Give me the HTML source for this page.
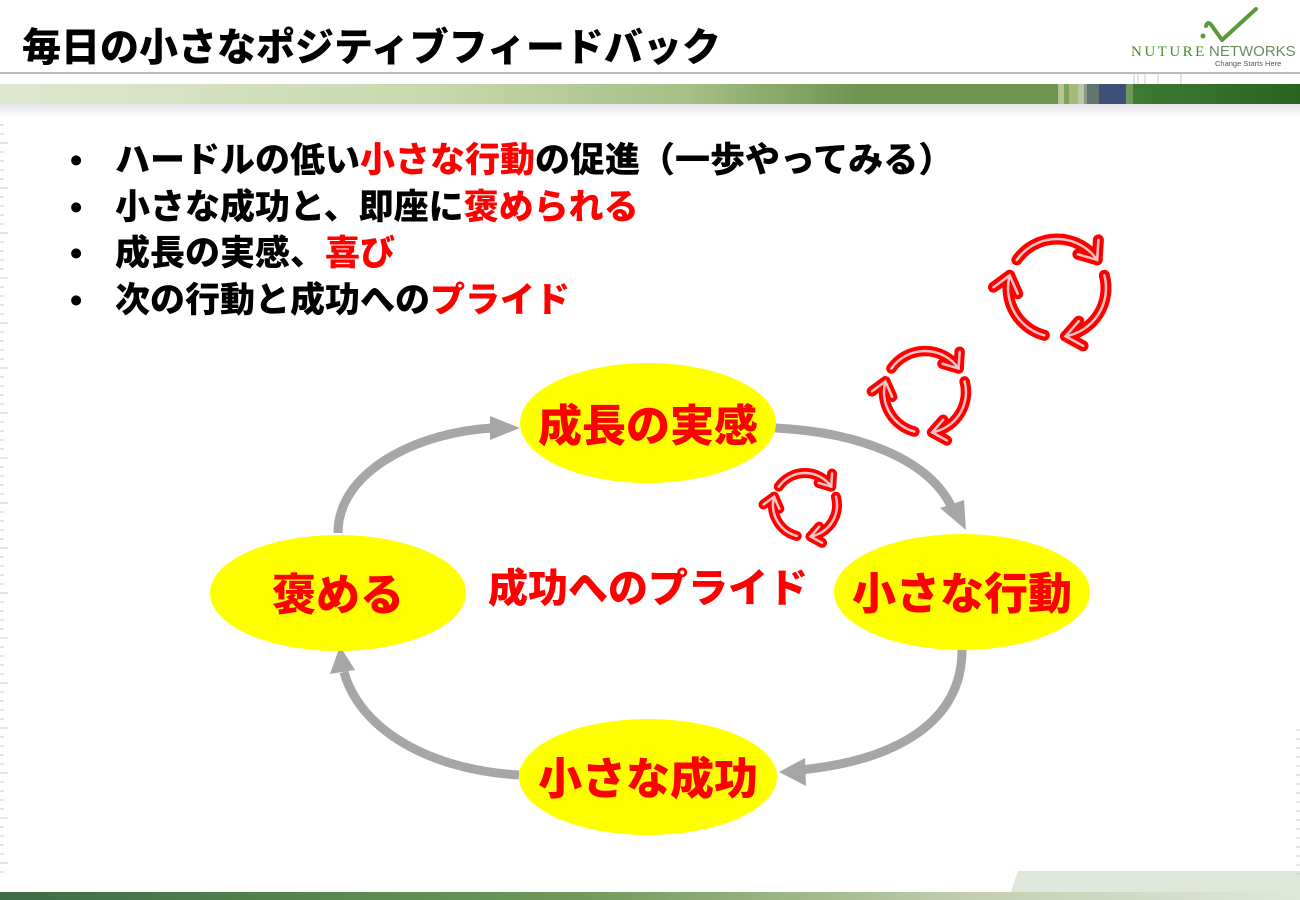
<!DOCTYPE html>
<html><head><meta charset="utf-8">
<style>
html,body{margin:0;padding:0;background:#fff;}
body{width:1300px;height:900px;overflow:hidden;position:relative;font-family:"Liberation Sans","Noto Sans CJK JP",sans-serif;}
.t{position:absolute;font-weight:900;white-space:nowrap;}
.r{color:#ff0000;}
</style></head><body>
<svg width="1300" height="900" style="position:absolute;left:0;top:0" id="sv">
<defs>
<linearGradient id="hb" x1="0" x2="1">
<stop offset="0" stop-color="#dfe8cf"/><stop offset="0.4" stop-color="#c9d9ae"/><stop offset="0.65" stop-color="#a5bf86"/><stop offset="0.81" stop-color="#6d9550"/></linearGradient>
<linearGradient id="hb2" x1="0" x2="1"><stop offset="0" stop-color="#3f7a35"/><stop offset="1" stop-color="#2a6320"/></linearGradient>
<linearGradient id="bb" x1="0" x2="1"><stop offset="0" stop-color="#3e6b45"/><stop offset="0.45" stop-color="#6f9a5a"/><stop offset="0.75" stop-color="#c4cfb0"/><stop offset="1" stop-color="#dfe7da"/></linearGradient>
<linearGradient id="sh" x1="0" y1="0" x2="0" y2="1"><stop offset="0" stop-color="#e6e6ea"/><stop offset="1" stop-color="#fff"/></linearGradient>
</defs>
<line x1="0" y1="73" x2="1300" y2="73" stroke="#bbb" stroke-width="2"/>
<rect x="0" y="104" width="1300" height="14" fill="url(#sh)"/>
<rect x="0" y="84" width="1060" height="20" fill="url(#hb)"/>
<rect x="1058" y="84" width="6" height="20" fill="#b5c496"/>
<rect x="1064" y="84" width="5" height="20" fill="#7ea05a"/>
<rect x="1069" y="84" width="9" height="20" fill="#a8b97c"/>
<rect x="1078" y="84" width="6" height="20" fill="#b7c9a0"/>
<rect x="1084" y="84" width="3" height="20" fill="#8a9a90"/>
<rect x="1087" y="84" width="12" height="20" fill="#637570"/>
<rect x="1099" y="84" width="27" height="20" fill="#3e5078"/>
<rect x="1126" y="84" width="7" height="20" fill="#6b9a5c"/>
<rect x="1133" y="84" width="167" height="20" fill="url(#hb2)"/>
<g stroke="#ccc" stroke-width="1"><line x1="1134" y1="73" x2="1134" y2="84"/><line x1="1138" y1="73" x2="1138" y2="84"/><line x1="1145" y1="73" x2="1145" y2="84"/><line x1="1158" y1="73" x2="1158" y2="84"/><line x1="1181" y1="73" x2="1181" y2="84"/></g>
<path d="M1206 26 Q1208 20 1212 26 L1222 40 L1256 9" fill="none" stroke="#5a9a3a" stroke-width="4" stroke-linecap="round" stroke-linejoin="round"/>
<circle cx="1203" cy="36" r="2.5" fill="#5a9a3a"/>
<text x="1131" y="56" font-family="Liberation Serif,serif" font-size="15" fill="#4a8a2e" letter-spacing="2.5">NUTURE</text>
<text x="1209" y="56" font-family="Liberation Sans,sans-serif" font-size="15" fill="#6d8a5e">NETWORKS</text>
<text x="1215" y="66" font-family="Liberation Sans,sans-serif" font-size="7.5" fill="#555">Change Starts Here</text>
<polygon points="1008,900 1018,871 1300,871 1300,900" fill="#dfe7da"/>
<rect x="0" y="892" width="1300" height="8" fill="url(#bb)"/>
<g id="ticks" stroke="#ccc" stroke-width="1"></g>
<g fill="none" stroke="#a6a6a6" stroke-width="9">
<path d="M338 533 C338 470 420 432 492 428"/>
<path d="M775 428 C860 432 930 460 952 508"/>
<path d="M962 650 C962 720 900 760 800 770"/>
<path d="M519 775 C430 770 360 730 344 672"/>
</g>
<g fill="#a6a6a6">
<polygon points="490,416 520,428 490,440"/>
<polygon points="940,508 966,530 964,500"/>
<polygon points="805,758 779,772 806,786"/>
<polygon points="330,674 340,646 355,670"/>
</g>
<ellipse cx="648" cy="423" rx="128" ry="60" fill="#ffff00"/>
<ellipse cx="338" cy="593" rx="128" ry="58" fill="#ffff00"/>
<ellipse cx="962" cy="592" rx="128" ry="58" fill="#ffff00"/>
<ellipse cx="648" cy="777" rx="129" ry="58" fill="#ffff00"/>
<g id="cyc"></g>
</svg>
<div class="t" style="left:22px;top:17px;font-size:39px;color:#000;">毎日の小さなポジティブフィードバック</div>
<div style="position:absolute;left:70px;top:138px;font-size:35px;line-height:46.5px;font-weight:900;">
<div><span style="display:inline-block;width:45px">•</span>ハードルの低い<span class="r">小さな行動</span>の促進（一歩やってみる）</div>
<div><span style="display:inline-block;width:45px">•</span>小さな成功と、即座に<span class="r">褒められる</span></div>
<div><span style="display:inline-block;width:45px">•</span>成長の実感、<span class="r">喜び</span></div>
<div><span style="display:inline-block;width:45px">•</span>次の行動と成功への<span class="r">プライド</span></div>
</div>
<div class="t r" style="left:520px;top:402px;width:256px;text-align:center;font-size:44px;line-height:50px;">成長の実感</div>
<div class="t r" style="left:210px;top:571px;width:256px;text-align:center;font-size:44px;line-height:50px;">褒める</div>
<div class="t r" style="left:834px;top:570px;width:256px;text-align:center;font-size:44px;line-height:50px;">小さな行動</div>
<div class="t r" style="left:519px;top:755px;width:258px;text-align:center;font-size:44px;line-height:50px;">小さな成功</div>
<div class="t r" style="left:470px;top:566px;width:356px;text-align:center;font-size:40px;line-height:46px;">成功へのプライド</div>
<script>
var NS="http://www.w3.org/2000/svg";
function el(t,a,p){var e=document.createElementNS(NS,t);for(var k in a)e.setAttribute(k,a[k]);p.appendChild(e);return e;}
var tg=document.getElementById("ticks");
for(var y=125;y<880;y+=9){var l=(y%45<9)?8:4;el("line",{x1:0,y1:y,x2:l,y2:y},tg);}
for(var y=730;y<880;y+=9){el("line",{x1:1296,y1:y,x2:1300,y2:y},tg);}
var cg=document.getElementById("cyc");
function cyc(cx,cy,r,w){
 var arcs=[[215,325],[345,80],[105,195]];
 arcs.forEach(function(a){
  var s=a[0]*Math.PI/180,e=a[1]*Math.PI/180;if(e<s)e+=2*Math.PI;
  var x1=cx+r*Math.cos(s),y1=cy+r*Math.sin(s),x2=cx+r*Math.cos(e),y2=cy+r*Math.sin(e);
  var d="M"+x1+" "+y1+" A"+r+" "+r+" 0 0 1 "+x2+" "+y2;
  var tx=-Math.sin(e),ty=Math.cos(e),nx=Math.cos(e),ny=Math.sin(e),h=r*0.32;
  var p1=(x2-tx*h+nx*h*0.8)+" "+(y2-ty*h+ny*h*0.8),p2=(x2-tx*h-nx*h*0.8)+" "+(y2-ty*h-ny*h*0.8);
  var ad="M"+p1+" L"+x2+" "+y2+" L"+p2;
  el("path",{d:d,fill:"none",stroke:"#ff0000","stroke-width":w,"stroke-linecap":"round"},cg);
  el("path",{d:ad,fill:"none",stroke:"#ff0000","stroke-width":w,"stroke-linecap":"round","stroke-linejoin":"round"},cg);
  el("path",{d:d,fill:"none",stroke:"#f6c4c4","stroke-width":2.5,"stroke-linecap":"round"},cg);
  el("path",{d:ad,fill:"none",stroke:"#f6c4c4","stroke-width":2.5,"stroke-linecap":"round"},cg);
 });
}
cyc(1057,288,49,11);
cyc(925,392,41,10.5);
cyc(805,505,32,10);
</script>
</body></html>
